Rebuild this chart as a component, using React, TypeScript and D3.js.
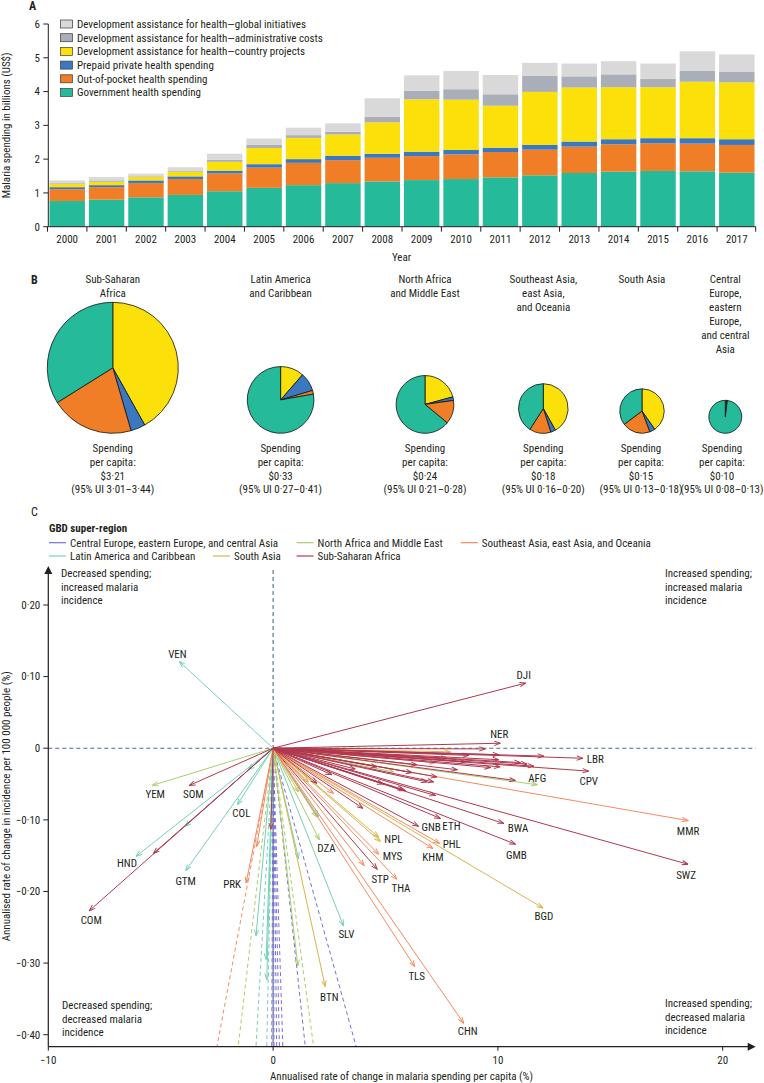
import React from 'react';
import * as d3 from 'd3';

// ---------- Panel A data ----------
const years = [2000, 2001, 2002, 2003, 2004, 2005, 2006, 2007, 2008, 2009, 2010, 2011, 2012, 2013, 2014, 2015, 2016, 2017];
const govSpending = [0.76, 0.80, 0.87, 0.94, 1.05, 1.15, 1.23, 1.29, 1.34, 1.38, 1.41, 1.46, 1.52, 1.59, 1.63, 1.65, 1.64, 1.60];
const oopSpending = [0.35, 0.37, 0.42, 0.47, 0.53, 0.60, 0.66, 0.68, 0.70, 0.71, 0.73, 0.75, 0.76, 0.78, 0.81, 0.82, 0.82, 0.82];
const prepaidSpending = [0.06, 0.06, 0.08, 0.08, 0.08, 0.10, 0.11, 0.13, 0.12, 0.13, 0.13, 0.13, 0.14, 0.15, 0.15, 0.15, 0.16, 0.17];
const dahCountry = [0.10, 0.10, 0.10, 0.14, 0.26, 0.48, 0.63, 0.63, 0.93, 1.55, 1.49, 1.24, 1.57, 1.60, 1.54, 1.51, 1.67, 1.68];
const dahAdmin = [0.02, 0.04, 0.02, 0.02, 0.06, 0.10, 0.08, 0.08, 0.16, 0.25, 0.31, 0.34, 0.47, 0.33, 0.38, 0.25, 0.33, 0.31];
const dahGlobal = [0.08, 0.10, 0.08, 0.11, 0.18, 0.18, 0.22, 0.25, 0.55, 0.46, 0.54, 0.57, 0.39, 0.38, 0.39, 0.45, 0.57, 0.52];
const yTicksA = [0, 1, 2, 3, 4, 5, 6];

const stackKeys = ['gov', 'oop', 'prepaid', 'country', 'admin', 'global'];
const legendA = [
  { key: 'global', label: 'Development assistance for health\u2014global initiatives' },
  { key: 'admin', label: 'Development assistance for health\u2014administrative costs' },
  { key: 'country', label: 'Development assistance for health\u2014country projects' },
  { key: 'prepaid', label: 'Prepaid private health spending' },
  { key: 'oop', label: 'Out-of-pocket health spending' },
  { key: 'gov', label: 'Government health spending' },
];

// ---------- Panel B data ----------
const pieRegions = [
  ['Sub-Saharan', 'Africa'],
  ['Latin America', 'and Caribbean'],
  ['North Africa', 'and Middle East'],
  ['Southeast Asia,', 'east Asia,', 'and Oceania'],
  ['South Asia'],
  ['Central', 'Europe,', 'eastern', 'Europe,', 'and central', 'Asia'],
];
const pieSpending = [3.21, 0.33, 0.24, 0.18, 0.15, 0.10];
const pieSpendingLabel = ['$3\u00b721', '$0\u00b733', '$0\u00b724', '$0\u00b718', '$0\u00b715', '$0\u00b710'];
const pieUI = ['3\u00b701\u20133\u00b744', '0\u00b727\u20130\u00b741', '0\u00b721\u20130\u00b728', '0\u00b716\u20130\u00b720', '0\u00b713\u20130\u00b718', '0\u00b708\u20130\u00b713'];
const pieDAH = [0.419, 0.114, 0.208, 0.419, 0.403, 0.012];
const piePrepaid = [0.036, 0.090, 0.020, 0.032, 0.040, 0.004];
const pieOOP = [0.206, 0.018, 0.132, 0.140, 0.205, 0.004];
const pieGov = [0.339, 0.778, 0.640, 0.409, 0.352, 0.980];

// ---------- Panel C data ----------
const regionCodes = ['CEECA', 'NAME', 'SEAO', 'LAC', 'SA', 'SSA'];
const regionNames: Record<string, string> = {
  CEECA: 'Central Europe, eastern Europe, and central Asia',
  NAME: 'North Africa and Middle East',
  SEAO: 'Southeast Asia, east Asia, and Oceania',
  LAC: 'Latin America and Caribbean',
  SA: 'South Asia',
  SSA: 'Sub-Saharan Africa',
};
const xTicksC = [-10, 0, 10, 20];
const yTicksC = [0.2, 0.1, 0, -0.1, -0.2, -0.3, -0.4];

const ceecaChanges = [
  { iso: '', x: -0.12, y: -0.8 }, { iso: '', x: 0.08, y: -0.8 }, { iso: '', x: 0.31, y: -0.8 },
  { iso: '', x: 0.54, y: -0.8 }, { iso: '', x: 0.83, y: -0.8 }, { iso: '', x: 2.75, y: -0.8 },
  { iso: '', x: 7.10, y: -0.8 }, { iso: '', x: 0.0, y: -0.8 },
];
const lacChanges = [
  { iso: 'VEN', x: -4.17, y: 0.121 }, { iso: 'COL', x: -1.59, y: -0.079 }, { iso: 'GTM', x: -3.89, y: -0.171 },
  { iso: 'HND', x: -6.10, y: -0.151 }, { iso: 'SLV', x: 3.13, y: -0.248 }, { iso: '', x: -1.10, y: -0.030 },
  { iso: '', x: -3.92, y: -0.109 }, { iso: '', x: 2.02, y: -0.095 }, { iso: '', x: 1.13, y: -0.154 },
  { iso: '', x: -0.76, y: -0.262 }, { iso: '', x: -0.31, y: -0.295 }, { iso: '', x: -0.28, y: -0.323 },
  { iso: '', x: -1.46, y: -0.8 }, { iso: '', x: -0.54, y: -0.8 },
];
const nameChanges = [
  { iso: 'AFG', x: 11.75, y: -0.051 }, { iso: 'DZA', x: 2.06, y: -0.128 }, { iso: 'YEM', x: -5.38, y: -0.052 },
  { iso: '', x: 5.36, y: -0.033 }, { iso: '', x: 1.13, y: -0.061 }, { iso: '', x: 1.95, y: -0.096 },
  { iso: '', x: 1.10, y: -0.304 }, { iso: '', x: -2.98, y: -0.8 }, { iso: '', x: 3.46, y: -0.8 },
];
const saChanges = [
  { iso: 'NPL', x: 4.77, y: -0.130 }, { iso: 'BGD', x: 12.0, y: -0.223 }, { iso: 'BTN', x: 2.32, y: -0.333 },
  { iso: '', x: 7.89, y: -0.005 }, { iso: '', x: 1.57, y: -0.047 }, { iso: '', x: 4.69, y: -0.124 },
];
const seaoChanges = [
  { iso: 'MMR', x: 18.46, y: -0.101 }, { iso: 'PHL', x: 7.41, y: -0.133 }, { iso: 'KHM', x: 7.11, y: -0.140 },
  { iso: 'MYS', x: 4.70, y: -0.148 }, { iso: 'THA', x: 5.51, y: -0.183 }, { iso: 'TLS', x: 6.30, y: -0.305 },
  { iso: 'CHN', x: 8.48, y: -0.384 }, { iso: 'PRK', x: -1.20, y: -0.188 }, { iso: '', x: 7.22, y: -0.020 },
  { iso: '', x: 4.05, y: -0.164 }, { iso: '', x: 2.69, y: -0.063 }, { iso: '', x: -0.73, y: -0.137 },
  { iso: '', x: -4.80, y: -0.8 },
];
const ssaChanges = [
  { iso: 'DJI', x: 11.24, y: 0.091 }, { iso: 'NER', x: 10.11, y: 0.007 }, { iso: 'LBR', x: 13.78, y: -0.014 },
  { iso: 'CPV', x: 14.04, y: -0.032 }, { iso: 'SWZ', x: 18.46, y: -0.162 }, { iso: 'BWA', x: 10.26, y: -0.105 },
  { iso: 'GMB', x: 10.78, y: -0.134 }, { iso: 'ETH', x: 7.44, y: -0.098 }, { iso: 'GNB', x: 6.47, y: -0.109 },
  { iso: 'STP', x: 4.63, y: -0.169 }, { iso: 'COM', x: -8.18, y: -0.227 }, { iso: 'SOM', x: -3.73, y: -0.052 },
  { iso: '', x: -5.33, y: -0.147 }, { iso: '', x: 9.44, y: -0.001 }, { iso: '', x: 10.04, y: -0.009 },
  { iso: '', x: 8.70, y: -0.010 }, { iso: '', x: 12.04, y: -0.011 }, { iso: '', x: 10.04, y: -0.016 },
  { iso: '', x: 8.55, y: -0.019 }, { iso: '', x: 7.74, y: -0.014 }, { iso: '', x: 11.0, y: -0.020 },
  { iso: '', x: 11.3, y: -0.022 }, { iso: '', x: 6.40, y: -0.023 }, { iso: '', x: 11.6, y: -0.025 },
  { iso: '', x: 9.67, y: -0.027 }, { iso: '', x: 10.1, y: -0.026 }, { iso: '', x: 6.18, y: -0.034 },
  { iso: '', x: 10.78, y: -0.045 }, { iso: '', x: 7.29, y: -0.040 }, { iso: '', x: 7.14, y: -0.047 },
  { iso: '', x: 6.85, y: -0.047 }, { iso: '', x: 5.88, y: -0.059 }, { iso: '', x: 7.22, y: -0.066 },
  { iso: '', x: 5.80, y: -0.058 }, { iso: '', x: 4.62, y: -0.026 }, { iso: '', x: 3.65, y: -0.029 },
  { iso: '', x: 4.00, y: -0.084 }, { iso: '', x: 1.95, y: -0.049 }, { iso: '', x: -0.10, y: -0.113 },
  { iso: '', x: 2.60, y: -0.037 }, { iso: '', x: 8.20, y: -0.030 }, { iso: '', x: 4.90, y: -0.050 },
];
const changesByRegion: Record<string, { iso: string; x: number; y: number }[]> = {
  CEECA: ceecaChanges, NAME: nameChanges, SEAO: seaoChanges, LAC: lacChanges, SA: saChanges, SSA: ssaChanges,
};

// ---------- Styles ----------
const FONT = "'Liberation Sans Narrow', 'Arial Narrow', 'Roboto Condensed', 'Liberation Sans', sans-serif";
const TEXT = '#231f20';
const barColors: Record<string, string> = {
  gov: '#25BB9A', oop: '#F07E26', prepaid: '#3A78C2', country: '#FCE00A', admin: '#A9AEB8', global: '#D9D9D9',
};
const regionColors: Record<string, string> = {
  CEECA: '#7B6FD6', NAME: '#AACF6C', SEAO: '#F68A5F', LAC: '#74D1B5', SA: '#D8B549', SSA: '#B0394F',
};
const labelNudge: Record<string, [number, number, string]> = {
  VEN: [-2, -7, 'middle'], DJI: [-2, -8, 'middle'], NER: [-1, -9, 'middle'], LBR: [4, 1, 'start'],
  CPV: [0, 10, 'middle'], AFG: [0, -7, 'middle'], MMR: [0, 11, 'middle'], SWZ: [-2, 11, 'middle'],
  BWA: [4, 5, 'start'], GMB: [1, 11, 'middle'], ETH: [2, 8, 'start'], GNB: [3, 1, 'start'], PHL: [3, 1, 'start'],
  KHM: [0, 9, 'middle'], NPL: [4, -2, 'start'], MYS: [4, 2, 'start'], STP: [3, 10, 'middle'], THA: [4, 9, 'middle'],
  BGD: [1, 8, 'middle'], TLS: [2, 9, 'middle'], CHN: [4, 8, 'middle'], DZA: [7, 8, 'middle'], SLV: [3, 8, 'middle'],
  BTN: [4, 10, 'middle'], PRK: [-5, 1, 'end'], GTM: [0, 10, 'middle'], HND: [-9, 7, 'middle'], COM: [2, 9, 'middle'],
  YEM: [3, 9, 'middle'], SOM: [4, 9, 'middle'], COL: [4, 8, 'middle'],
};

export default function App() {
  const W = 764, H = 1083;

  // ---- Panel A ----
  const rows = years.map((yr, i) => ({
    year: yr, gov: govSpending[i], oop: oopSpending[i], prepaid: prepaidSpending[i],
    country: dahCountry[i], admin: dahAdmin[i], global: dahGlobal[i],
  }));
  const stacked = d3.stack<any>().keys(stackKeys)(rows);
  const xA = d3.scaleBand<number>().domain(years).range([48.3, 755.7]).paddingInner(0.1).paddingOuter(0.03);
  const yA = d3.scaleLinear().domain([0, 6]).range([226.7, 24]);
  const gapA = xA.step() - xA.bandwidth();
  const tickXA = years.map((yr) => (xA(yr) as number) - gapA / 2).concat([755.7]);

  // ---- Panel B ----
  const pieCenterX = [112.8, 280.6, 425, 543.3, 642, 725.3];
  const pieTextX = [112.8, 280.6, 425, 543.3, 641, 722];
  const pieBottom = 433.3;
  const rScale = d3.scaleLog().domain([0.1, 3.21]).range([16.5, 65.5]);
  const pieGen = d3.pie<number>().sort(null).value((d) => d);
  const pieColors = [barColors.country, barColors.prepaid, barColors.oop, barColors.gov];

  // ---- Panel C ----
  const xC = d3.scaleLinear().domain([-10, 20]).range([48.3, 722.7]);
  const yC = d3.scaleLinear().domain([-0.4, 0.2]).range([1034.7, 605]);
  const x0 = xC(0), y0 = yC(0);
  const axisBottom = 1046.7, axisRight = 755.7, axisTop = 566, axisLeft = 48.3;
  const yMinVisible = yC.invert(axisBottom);

  const fmtY = (v: number) => (v === 0 ? '0' : (v < 0 ? '\u2212' : '') + Math.abs(v).toFixed(2).replace('.', '\u00b7'));
  const fmtX = (v: number) => (v < 0 ? '\u2212' : '') + Math.abs(v);

  const legendC = [
    { code: 'CEECA', x: 49, y: 542.7 }, { code: 'NAME', x: 296.6, y: 542.7 }, { code: 'SEAO', x: 460.8, y: 542.7 },
    { code: 'LAC', x: 49, y: 556 }, { code: 'SA', x: 213, y: 556 }, { code: 'SSA', x: 296.6, y: 556 },
  ];
  const drawOrder = ['CEECA', 'LAC', 'NAME', 'SA', 'SEAO', 'SSA'];

  const quadText = (lines: string[], x: number, y: number) => (
    <text x={x} y={y} fontSize={11} fill={TEXT}>
      {lines.map((l, i) => (
        <tspan key={i} x={x} dy={i === 0 ? 0 : 13.5}>{l}</tspan>
      ))}
    </text>
  );

  return (
    <svg width={W} height={H} style={{ position: 'absolute', left: 0, top: 0, background: '#fff' }} fontFamily={FONT}>
      <defs>
        {regionCodes.map((c) => (
          <marker key={c} id={`arr-${c}`} viewBox="0 0 8 6" refX={7.5} refY={3} markerWidth={7} markerHeight={5.5}
            markerUnits="userSpaceOnUse" orient="auto">
            <path d="M0.5,0.5 L7.5,3 L0.5,5.5" fill="none" stroke={regionColors[c]} strokeWidth={1.1} />
          </marker>
        ))}
        <clipPath id="clipC">
          <rect x={axisLeft} y={540} width={axisRight - axisLeft} height={axisBottom - 540} />
        </clipPath>
      </defs>

      {/* ================= Panel A ================= */}
      <text x={29} y={10} fontSize={12} fontWeight="bold" fill={TEXT}>A</text>
      <text transform={`translate(10,${(yA(0) + yA(6)) / 2}) rotate(-90)`} textAnchor="middle" fontSize={11} fill={TEXT}>
        Malaria spending in billions (US$)
      </text>
      {stacked.map((layer) => (
        <g key={layer.key} fill={barColors[layer.key]}>
          {layer.map((d, i) => (
            <rect key={i} x={xA(years[i])} width={xA.bandwidth()} y={yA(d[1])} height={Math.max(0, yA(d[0]) - yA(d[1]))} />
          ))}
        </g>
      ))}
      {/* axes */}
      <line x1={48.3} x2={48.3} y1={yA(6)} y2={yA(0)} stroke={TEXT} strokeWidth={1} />
      {yTicksA.map((t) => (
        <g key={t}>
          <line x1={43.3} x2={48.3} y1={yA(t)} y2={yA(t)} stroke={TEXT} strokeWidth={1} />
          <text x={40} y={yA(t)} dy="0.35em" textAnchor="end" fontSize={11} fill={TEXT}>{t}</text>
        </g>
      ))}
      <line x1={48.3} x2={755.7} y1={yA(0)} y2={yA(0)} stroke={TEXT} strokeWidth={1} />
      {tickXA.map((tx, i) => (
        <line key={i} x1={tx} x2={tx} y1={yA(0)} y2={yA(0) + 5} stroke={TEXT} strokeWidth={1} />
      ))}
      {years.map((yr) => (
        <text key={yr} x={(xA(yr) as number) + xA.bandwidth() / 2} y={239.5} dy="0.35em" textAnchor="middle" fontSize={11} fill={TEXT}>{yr}</text>
      ))}
      <text x={401.5} y={257.5} dy="0.35em" textAnchor="middle" fontSize={11} fill={TEXT}>Year</text>
      {/* legend */}
      {legendA.map((l, i) => (
        <g key={l.key}>
          <rect x={60.5} y={24 + i * 13.7 - 4} width={12} height={8} fill={barColors[l.key]} stroke="#3a3a3a" strokeWidth={0.7} />
          <text x={77} y={24 + i * 13.7} dy="0.35em" fontSize={11} fill={TEXT}>{l.label}</text>
        </g>
      ))}

      {/* ================= Panel B ================= */}
      <text x={31} y={279.5} dy="0.35em" fontSize={12} fontWeight="bold" fill={TEXT}>B</text>
      {pieSpending.map((s, i) => {
        const r = rScale(s);
        const cx = pieCenterX[i];
        const cy = pieBottom - r;
        const arcs = pieGen([pieDAH[i], piePrepaid[i], pieOOP[i], pieGov[i]]);
        const arcGen = d3.arc<d3.PieArcDatum<number>>().innerRadius(0).outerRadius(r);
        return (
          <g key={i}>
            {pieRegions[i].map((line, j) => (
              <text key={j} x={cx} y={279.5 + j * 14} dy="0.35em" textAnchor="middle" fontSize={11} fill={TEXT}>{line}</text>
            ))}
            <g transform={`translate(${cx},${cy})`}>
              {arcs.map((a, k) => (
                <path key={k} d={arcGen(a) as string} fill={pieColors[k]} stroke="#111" strokeWidth={0.8} strokeLinejoin="round" />
              ))}
            </g>
            {['Spending', 'per capita:', pieSpendingLabel[i], `(95% UI ${pieUI[i]})`].map((line, j) => (
              <text key={j} x={pieTextX[i]} y={448.3 + j * 13.7} dy="0.35em" textAnchor="middle" fontSize={11} fill={TEXT}>{line}</text>
            ))}
          </g>
        );
      })}

      {/* ================= Panel C ================= */}
      <text x={31} y={511.7} dy="0.35em" fontSize={12} fill={TEXT}>C</text>
      <text x={49} y={528.3} dy="0.35em" fontSize={11} fontWeight="bold" fill={TEXT}>GBD super-region</text>
      {legendC.map((l) => (
        <g key={l.code}>
          <line x1={l.x} x2={l.x + 17} y1={l.y} y2={l.y} stroke={regionColors[l.code]} strokeWidth={1.2} />
          <text x={l.x + 21} y={l.y} dy="0.35em" fontSize={11} fill={TEXT}>{regionNames[l.code]}</text>
        </g>
      ))}

      {/* reference dashed lines */}
      <line x1={axisLeft} x2={axisRight} y1={y0} y2={y0} stroke="#4C6F80" strokeWidth={1.1} strokeDasharray="4,3" />
      <line x1={x0} x2={x0} y1={axisTop + 4} y2={axisBottom} stroke="#4C6F80" strokeWidth={1.1} strokeDasharray="4,3" />

      {/* arrows */}
      <g clipPath="url(#clipC)">
        {drawOrder.map((code) =>
          changesByRegion[code].map((c, i) => {
            const offChart = c.y < yMinVisible;
            return (
              <line key={`${code}-${i}`} x1={x0} y1={y0} x2={xC(c.x)} y2={yC(c.y)}
                stroke={regionColors[code]} strokeWidth={1}
                strokeDasharray={offChart ? '4,3' : undefined}
                markerEnd={offChart ? undefined : `url(#arr-${code})`} />
            );
          })
        )}
      </g>
      {/* country labels */}
      {drawOrder.map((code) =>
        changesByRegion[code].filter((c) => c.iso).map((c) => {
          const nudge = labelNudge[c.iso] || [2, 9, 'middle'];
          return (
            <text key={c.iso} x={xC(c.x) + nudge[0]} y={yC(c.y) + nudge[1]} dy="0.35em" textAnchor={nudge[2] as any}
              fontSize={11} fill={TEXT}>{c.iso}</text>
          );
        })
      )}

      {/* axes */}
      <line x1={axisLeft} x2={axisLeft} y1={axisBottom} y2={axisTop + 6} stroke={TEXT} strokeWidth={1.2} />
      <path d={`M${axisLeft - 4},${axisTop + 8} L${axisLeft},${axisTop} L${axisLeft + 4},${axisTop + 8} Z`} fill={TEXT} />
      <line x1={axisLeft} x2={axisRight - 6} y1={axisBottom} y2={axisBottom} stroke={TEXT} strokeWidth={1.2} />
      <path d={`M${axisRight - 8},${axisBottom - 4} L${axisRight},${axisBottom} L${axisRight - 8},${axisBottom + 4} Z`} fill={TEXT} />
      {yTicksC.map((t) => (
        <g key={t}>
          <line x1={axisLeft - 5} x2={axisLeft} y1={yC(t)} y2={yC(t)} stroke={TEXT} strokeWidth={1} />
          <text x={axisLeft - 8} y={yC(t)} dy="0.35em" textAnchor="end" fontSize={11} fill={TEXT}>{fmtY(t)}</text>
        </g>
      ))}
      {xTicksC.map((t) => (
        <g key={t}>
          <line x1={xC(t)} x2={xC(t)} y1={axisBottom} y2={axisBottom + 4} stroke={TEXT} strokeWidth={1} />
          <text x={xC(t)} y={1060} dy="0.35em" textAnchor="middle" fontSize={11} fill={TEXT}>{fmtX(t)}</text>
        </g>
      ))}
      <text x={401.5} y={1076.5} dy="0.35em" textAnchor="middle" fontSize={11} fill={TEXT}>
        Annualised rate of change in malaria spending per capita (%)
      </text>
      <text transform={`translate(10,${(axisTop + axisBottom) / 2}) rotate(-90)`} textAnchor="middle" fontSize={11} fill={TEXT}>
        Annualised rate of change in incidence per 100 000 people (%)
      </text>

      {quadText(['Decreased spending;', 'increased malaria', 'incidence'], 61, 577)}
      {quadText(['Increased spending;', 'increased malaria', 'incidence'], 665, 577)}
      {quadText(['Decreased spending;', 'decreased malaria', 'incidence'], 62, 1009)}
      {quadText(['Increased spending;', 'decreased malaria', 'incidence'], 665, 1007)}
    </svg>
  );
}
